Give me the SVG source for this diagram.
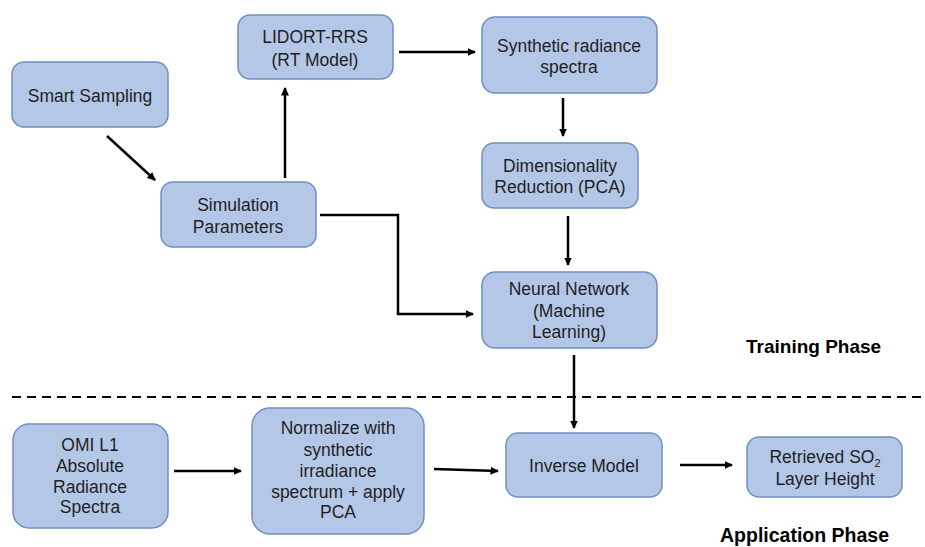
<svg xmlns="http://www.w3.org/2000/svg" width="925" height="547" viewBox="0 0 925 547">
<style>
.box{fill:#b4c7e7;stroke:#6f8fc4;stroke-width:1.5}
.t{font-family:"Liberation Sans",Arial,sans-serif;font-size:17.5px;fill:#1f1f1f;text-anchor:middle}
.ph{font-family:"Liberation Sans",Arial,sans-serif;font-size:19px;font-weight:bold;fill:#000}
.c{fill:none;stroke:#000;stroke-width:2.5;marker-end:url(#ah)}
</style>
<defs>
<marker id="ah" markerWidth="4" markerHeight="4" refX="3" refY="2" orient="auto" markerUnits="strokeWidth">
<path d="M0,0.4 L3.4,2 L0,3.6 Z" fill="#000"/>
</marker>
</defs>
<rect width="925" height="547" fill="#fff"/>
<line x1="12" y1="397" x2="925" y2="397" stroke="#000" stroke-width="2" stroke-dasharray="9,6"/>
<g id="connectors">
<path class="c" d="M107,136 L155,180"/>
<path class="c" d="M285,178 L285,88"/>
<path class="c" d="M399,52 L475,52"/>
<path class="c" d="M563,98 L563,136"/>
<path class="c" d="M568,216 L568,265"/>
<path class="c" d="M320,215 L398,215 L398,314 L473,314"/>
<path class="c" d="M574,355 L574,428"/>
<path class="c" d="M174,471 L241,471"/>
<path class="c" d="M434,469 L498,471"/>
<path class="c" d="M680,465 L732,465"/>
</g>
<g id="smart-sampling"><rect class="box" x="12" y="62" width="156" height="65" rx="12"/><text class="t" x="90" y="102">Smart Sampling</text></g>
<g id="lidort"><rect class="box" x="238" y="15" width="155" height="64" rx="12"/><text class="t" x="315" y="43">LIDORT-RRS</text><text class="t" x="315" y="66">(RT Model)</text></g>
<g id="sim-params"><rect class="box" x="161" y="182" width="155" height="65" rx="12"/><text class="t" x="238" y="211">Simulation</text><text class="t" x="238" y="233">Parameters</text></g>
<g id="synthetic"><rect class="box" x="482" y="17" width="175" height="76" rx="13"/><text class="t" x="569" y="52">Synthetic radiance</text><text class="t" x="569" y="73">spectra</text></g>
<g id="pca"><rect class="box" x="482" y="143" width="156" height="65" rx="12"/><text class="t" x="560" y="172">Dimensionality</text><text class="t" x="560" y="193">Reduction (PCA)</text></g>
<g id="nn"><rect class="box" x="482" y="272" width="175" height="76" rx="13"/><text class="t" x="569" y="295">Neural Network</text><text class="t" x="569" y="317">(Machine</text><text class="t" x="569" y="338">Learning)</text></g>
<g id="inverse"><rect class="box" x="506" y="433" width="156" height="64" rx="12"/><text class="t" x="584" y="472">Inverse Model</text></g>
<g id="retrieved"><rect class="box" x="747" y="437" width="155" height="60" rx="12"/><text class="t" x="825" y="463">Retrieved SO<tspan font-size="11" dy="4">2</tspan></text><text class="t" x="825" y="485">Layer Height</text></g>
<g id="omi"><rect class="box" x="13" y="424" width="155" height="104" rx="16"/><text class="t" x="90" y="451">OMI L1</text><text class="t" x="90" y="472">Absolute</text><text class="t" x="90" y="493">Radiance</text><text class="t" x="90" y="513">Spectra</text></g>
<g id="normalize"><rect class="box" x="252" y="408" width="172" height="126" rx="18"/><text class="t" x="338" y="434">Normalize with</text><text class="t" x="338" y="456">synthetic</text><text class="t" x="338" y="477">irradiance</text><text class="t" x="338" y="498">spectrum + apply</text><text class="t" x="338" y="518">PCA</text></g>
<text class="ph" x="746" y="353">Training Phase</text>
<text class="ph" x="720" y="542" style="font-size:19.5px">Application Phase</text>
</svg>
